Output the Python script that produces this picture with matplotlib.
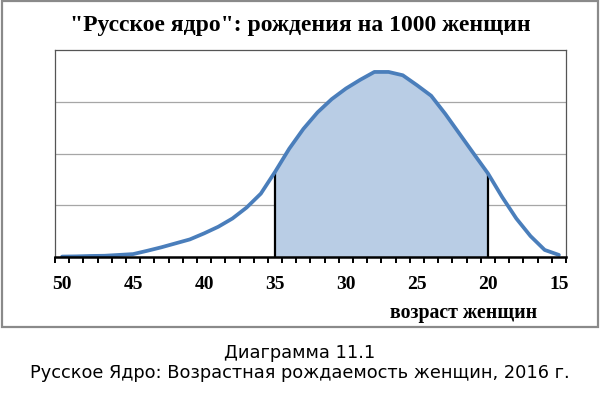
import matplotlib
matplotlib.use("Agg")
import matplotlib.pyplot as plt
from matplotlib.patches import Rectangle
import numpy as np

ages = [50, 49, 48, 47, 46, 45, 44, 43, 42, 41, 40, 39, 38, 37, 36, 35, 34, 33,
        32, 31, 30, 29, 28, 27, 26, 25, 24, 23, 22, 21, 20, 19, 18, 17, 16, 15]
births = [0.2, 0.3, 0.5, 0.6, 1.0, 1.4, 3.0, 4.7, 6.6, 8.5, 11.4, 14.6, 18.6, 23.9,
          30.6, 41.1, 52.3, 61.9, 69.9, 76.3, 81.4, 85.6, 89.4, 89.4, 87.8, 83.0,
          77.9, 69.1, 59.5, 49.9, 40.4, 29.0, 18.6, 10.1, 3.4, 1.0]
tick_ages = [50, 45, 40, 35, 30, 25, 20, 15]
core_from, core_to = 35, 20

title = '"Русское ядро": рождения на 1000 женщин'
xlabel = "возраст женщин"
caption1 = "Диаграмма 11.1"
caption2 = "Русское Ядро: Возрастная рождаемость женщин, 2016 г."

serif = ["Liberation Serif", "DejaVu Serif"]

fig = plt.figure(figsize=(6, 4), dpi=100)
fig.patch.set_facecolor("white")

# outer chart border
fig.patches.append(Rectangle((2 / 600, 1 - 327 / 400), 596 / 600, 326 / 400,
                             transform=fig.transFigure, fill=False,
                             edgecolor="#8a8a8a", linewidth=1.6))

ax = fig.add_axes([55 / 600, 1 - 257 / 400, 511 / 600, 207 / 400])

x = np.array(ages, dtype=float)
y = np.array(births, dtype=float)

mask = (x <= core_from) & (x >= core_to)
ax.fill_between(x[mask], 0, y[mask], color="#B9CDE5", linewidth=0, zorder=2)
for a in (core_from, core_to):
    v = y[list(ages).index(a)]
    ax.plot([a, a], [0, v], color="black", linewidth=1.6, zorder=3,
            solid_capstyle="butt")
ax.plot(x, y, color="#4A7EBB", linewidth=2.7, zorder=4,
        solid_joinstyle="round", solid_capstyle="round")

ax.set_xlim(50.5, 14.5)
ax.set_ylim(0, 100)
ax.set_yticks([25, 50, 75])
ax.yaxis.grid(True, color="#a6a6a6", linewidth=0.9)
ax.set_axisbelow(True)
ax.tick_params(axis="y", left=False, labelleft=False)

ax.set_xticks(tick_ages)
ax.set_xticklabels([str(t) for t in tick_ages], fontfamily=serif,
                   fontweight="bold", fontsize=14)
ax.set_xticks(np.arange(50.5, 14.0, -1.0), minor=True)
ax.tick_params(axis="x", which="major", length=0, pad=13.5)
ax.tick_params(axis="x", which="minor", length=4.5, width=1.4,
               direction="out", color="black")

for s in ("top", "left", "right"):
    ax.spines[s].set_color("#555555")
    ax.spines[s].set_linewidth(0.9)
ax.spines["bottom"].set_color("black")
ax.spines["bottom"].set_linewidth(1.8)
ax.spines["bottom"].set_zorder(5)

fig.text(0.5, 1 - 25 / 400, title, ha="center", va="center",
         fontfamily=serif, fontweight="bold", fontsize=17)
fig.text(537 / 600, 1 - 318 / 400, xlabel, ha="right", va="baseline",
         fontfamily=serif, fontweight="bold", fontsize=14.3)

fig.text(0.5, 1 - 358 / 400, caption1, ha="center", va="baseline",
         fontfamily="DejaVu Sans", fontsize=12.8)
fig.text(0.5, 1 - 378 / 400, caption2, ha="center", va="baseline",
         fontfamily="DejaVu Sans", fontsize=12.8)

fig.savefig("out.png", dpi=100, facecolor="white")
